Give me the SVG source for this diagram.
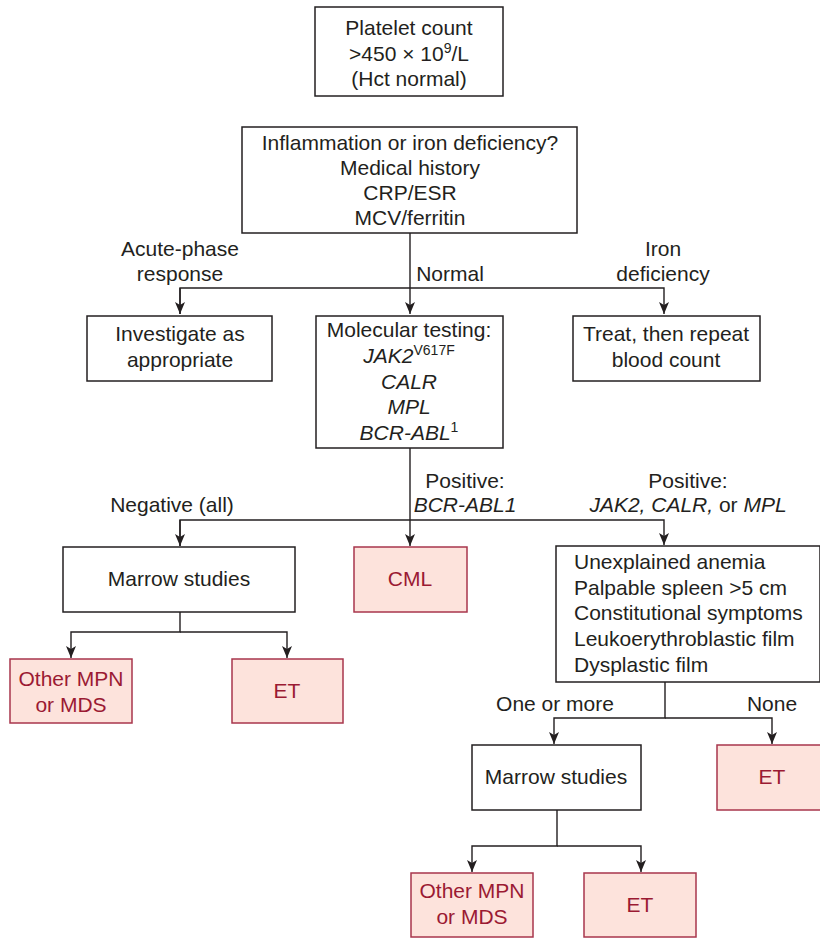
<svg xmlns="http://www.w3.org/2000/svg" width="820" height="938" viewBox="0 0 820 938">
  <style>
    .box { fill: #ffffff; stroke: #231f20; stroke-width: 1.5; }
    .dx { fill: #fde3dc; stroke: #a8364c; stroke-width: 1.5; }
    text { font-family: "Liberation Sans", Arial, sans-serif; font-size: 21px; fill: #231f20; }
    .c { text-anchor: middle; }
    .red { fill: #9b1a33; }
    .it { font-style: italic; }
    .sup { font-size: 14px; }
    .wire { fill: none; stroke: #231f20; stroke-width: 1.4; }
  </style>
  <defs>
    <marker id="arrow" viewBox="0 0 12 10" refX="12" refY="5" markerWidth="12" markerHeight="10" markerUnits="userSpaceOnUse" orient="auto">
      <path d="M0,0 L12,5 L0,10 L3,5 z" fill="#231f20"/>
    </marker>
  </defs>

  <!-- connectors -->
  <g id="connectors">
    <path class="wire" d="M410,233 V314" marker-end="url(#arrow)"/>
    <path class="wire" d="M180,314 V288 H664 V314" marker-end="url(#arrow)"/>
    <path class="wire" d="M180,288 V314" marker-end="url(#arrow)"/>

    <path class="wire" d="M410,448 V546" marker-end="url(#arrow)"/>
    <path class="wire" d="M180,546 V520 H664 V545" marker-end="url(#arrow)"/>
    <path class="wire" d="M180,520 V546" marker-end="url(#arrow)"/>

    <path class="wire" d="M180,612 V632 H71 V658" marker-end="url(#arrow)"/>
    <path class="wire" d="M180,632 H287 V658" marker-end="url(#arrow)"/>

    <path class="wire" d="M665,682 V718 H554 V744" marker-end="url(#arrow)"/>
    <path class="wire" d="M665,718 H772 V744" marker-end="url(#arrow)"/>

    <path class="wire" d="M557,810 V846 H472 V872" marker-end="url(#arrow)"/>
    <path class="wire" d="M557,846 H641 V872" marker-end="url(#arrow)"/>

    <!-- branch labels -->
    <text class="c" x="180" y="256">Acute-phase</text>
    <text class="c" x="180" y="281">response</text>
    <text class="c" x="450" y="281">Normal</text>
    <text class="c" x="663" y="256">Iron</text>
    <text class="c" x="663" y="281">deficiency</text>

    <text class="c" x="172" y="512">Negative (all)</text>
    <text class="c" x="465" y="488">Positive:</text>
    <text class="c it" x="465" y="512">BCR-ABL1</text>
    <text class="c" x="688" y="488">Positive:</text>
    <text class="c" x="688" y="512"><tspan class="it">JAK2, CALR,</tspan> or <tspan class="it">MPL</tspan></text>

    <text class="c" x="555" y="711">One or more</text>
    <text class="c" x="772" y="711">None</text>
  </g>

  <g id="platelet">
    <rect class="box" x="315" y="7" width="188" height="89"/>
    <text class="c" x="409" y="35">Platelet count</text>
    <text class="c" x="409" y="61">&gt;450 × 10<tspan class="sup" dy="-8">9</tspan><tspan dy="8">/L</tspan></text>
    <text class="c" x="409" y="86">(Hct normal)</text>
  </g>

  <g id="screen">
    <rect class="box" x="242" y="127" width="335" height="106"/>
    <text class="c" x="410" y="150">Inflammation or iron deficiency?</text>
    <text class="c" x="410" y="175">Medical history</text>
    <text class="c" x="410" y="200">CRP/ESR</text>
    <text class="c" x="410" y="225">MCV/ferritin</text>
  </g>

  <g id="investigate">
    <rect class="box" x="87" y="316" width="185" height="65"/>
    <text class="c" x="180" y="341">Investigate as</text>
    <text class="c" x="180" y="367">appropriate</text>
  </g>

  <g id="molecular">
    <rect class="box" x="316" y="316" width="187" height="132"/>
    <text class="c" x="409" y="337">Molecular testing:</text>
    <text class="c" x="409" y="363"><tspan class="it">JAK2</tspan><tspan class="sup" dy="-8">V617F</tspan></text>
    <text class="c it" x="409" y="389">CALR</text>
    <text class="c it" x="409" y="414">MPL</text>
    <text class="c" x="409" y="440"><tspan class="it">BCR-ABL</tspan><tspan class="sup" dy="-8">1</tspan></text>
  </g>

  <g id="treat">
    <rect class="box" x="573" y="316" width="187" height="65"/>
    <text class="c" x="666" y="341">Treat, then repeat</text>
    <text class="c" x="666" y="367">blood count</text>
  </g>

  <g id="marrow1">
    <rect class="box" x="63" y="547" width="232" height="65"/>
    <text class="c" x="179" y="586">Marrow studies</text>
  </g>

  <g id="cml">
    <rect class="dx" x="354" y="547" width="113" height="65"/>
    <text class="c red" x="410" y="586">CML</text>
  </g>

  <g id="features">
    <rect class="box" x="556" y="546" width="264" height="136"/>
    <text x="574" y="569">Unexplained anemia</text>
    <text x="574" y="595">Palpable spleen &gt;5 cm</text>
    <text x="574" y="620">Constitutional symptoms</text>
    <text x="574" y="646">Leukoerythroblastic film</text>
    <text x="574" y="672">Dysplastic film</text>
  </g>

  <g id="other1">
    <rect class="dx" x="10" y="659" width="122" height="64"/>
    <text class="c red" x="71" y="686">Other MPN</text>
    <text class="c red" x="71" y="712">or MDS</text>
  </g>

  <g id="et1">
    <rect class="dx" x="232" y="659" width="111" height="64"/>
    <text class="c red" x="287" y="698">ET</text>
  </g>

  <g id="marrow2">
    <rect class="box" x="472" y="745" width="169" height="65"/>
    <text class="c" x="556" y="784">Marrow studies</text>
  </g>

  <g id="et2">
    <rect class="dx" x="717" y="745" width="110" height="65"/>
    <text class="c red" x="772" y="784">ET</text>
  </g>

  <g id="other2">
    <rect class="dx" x="411" y="873" width="122" height="64"/>
    <text class="c red" x="472" y="898">Other MPN</text>
    <text class="c red" x="472" y="924">or MDS</text>
  </g>

  <g id="et3">
    <rect class="dx" x="584" y="873" width="112" height="64"/>
    <text class="c red" x="640" y="912">ET</text>
  </g>
</svg>
